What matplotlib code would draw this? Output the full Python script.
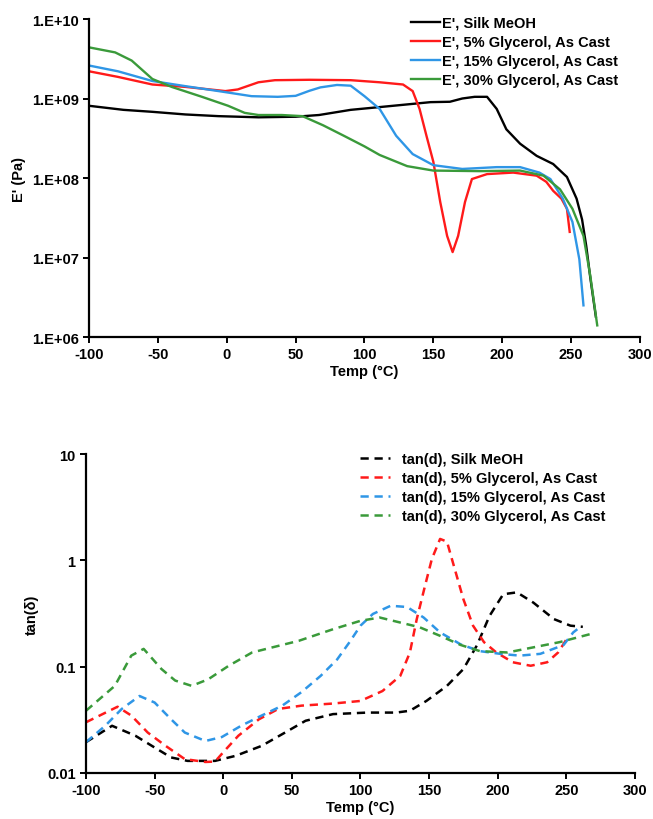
import numpy as np
import matplotlib
matplotlib.use("Agg")
import matplotlib.pyplot as plt
from matplotlib.ticker import FixedLocator, FuncFormatter, NullLocator

plt.rcParams['font.family'] = ['Liberation Sans', 'DejaVu Sans']
plt.rcParams['font.weight'] = 'bold'
plt.rcParams['axes.unicode_minus'] = False

# ---- storage modulus E' (Pa) ----
t_silk = [-100, -75, -54, -30, -6, 23, 50, 67, 90, 111, 148, 162, 171, 180, 189, 196, 203, 213, 225, 237, 247, 254, 258, 261, 264, 268]
e_silk = [8.1e8, 7.2e8, 6.8e8, 6.3e8, 6.0e8, 5.8e8, 5.9e8, 6.2e8, 7.2e8, 7.8e8, 9.0e8, 9.1e8, 1.0e9, 1.05e9, 1.05e9, 7.4e8, 4.1e8, 2.7e8, 1.9e8, 1.5e8, 1.03e8, 5.5e7, 3.0e7, 1.4e7, 5.5e6, 1.8e6]

t_g5 = [-100, -79, -54, -30, -1, 8, 23, 35, 60, 90, 111, 128, 135, 140, 145, 150, 155, 160, 164, 168, 173, 178, 189, 208, 225, 232, 237, 243, 247, 249]
e_g5 = [2.2e9, 1.87e9, 1.5e9, 1.4e9, 1.24e9, 1.3e9, 1.6e9, 1.7e9, 1.72e9, 1.7e9, 1.6e9, 1.5e9, 1.24e9, 7.4e8, 3.4e8, 1.6e8, 5.0e7, 1.87e7, 1.17e7, 1.87e7, 5.0e7, 9.7e7, 1.12e8, 1.17e8, 1.07e8, 8.95e7, 6.9e7, 5.5e7, 4.1e7, 2.1e7]

t_g15 = [-100, -79, -54, -30, -6, 18, 37, 50, 60, 68, 80, 90, 100, 111, 123, 135, 150, 171, 196, 213, 227, 235, 244, 251, 256, 259]
e_g15 = [2.6e9, 2.2e9, 1.66e9, 1.43e9, 1.24e9, 1.07e9, 1.05e9, 1.08e9, 1.25e9, 1.38e9, 1.48e9, 1.45e9, 1.07e9, 7.4e8, 3.4e8, 2.0e8, 1.45e8, 1.3e8, 1.37e8, 1.37e8, 1.17e8, 9.7e7, 5.5e7, 2.8e7, 9.5e6, 2.5e6]

t_g30 = [-100, -81, -69, -54, -40, -18, 1, 13, 23, 40, 55, 70, 85, 100, 111, 131, 150, 184, 213, 230, 242, 251, 259, 264, 269]
e_g30 = [4.4e9, 3.8e9, 3.0e9, 1.76e9, 1.4e9, 1.05e9, 8.1e8, 6.6e8, 6.2e8, 6.2e8, 6.0e8, 4.6e8, 3.4e8, 2.5e8, 1.95e8, 1.41e8, 1.24e8, 1.22e8, 1.24e8, 1.07e8, 7.2e7, 4.1e7, 1.87e7, 5.8e6, 1.4e6]

# ---- tan(delta) ----
td_t_silk = [-100, -81, -64, -52, -38, -26, -6, 9, 28, 45, 60, 80, 105, 126, 136, 148, 163, 175, 185, 194, 204, 214, 226, 241, 253, 262]
td_silk = [0.0195, 0.0278, 0.0224, 0.018, 0.014, 0.013, 0.013, 0.0145, 0.018, 0.024, 0.031, 0.0358, 0.037, 0.037, 0.0385, 0.0476, 0.066, 0.095, 0.16, 0.30, 0.48, 0.50, 0.40, 0.28, 0.243, 0.237]

td_t_g5 = [-100, -77, -67, -55, -42, -28, -13, -6, 1, 11, 26, 40, 57, 80, 100, 116, 129, 136, 141, 147, 152, 158, 163, 168, 175, 182, 190, 199, 211, 224, 236, 244, 250]
td_g5 = [0.030, 0.042, 0.0347, 0.024, 0.018, 0.0135, 0.0127, 0.0128, 0.0162, 0.0224, 0.032, 0.040, 0.043, 0.045, 0.0476, 0.059, 0.082, 0.136, 0.28, 0.575, 1.03, 1.59, 1.5, 0.89, 0.43, 0.243, 0.17, 0.136, 0.11, 0.102, 0.11, 0.136, 0.18]

td_t_g15 = [-100, -86, -74, -61, -50, -38, -28, -13, -1, 13, 28, 43, 57, 71, 83, 92, 100, 109, 122, 134, 146, 158, 173, 187, 202, 216, 231, 248, 255, 258]
td_g15 = [0.0195, 0.0278, 0.040, 0.053, 0.046, 0.032, 0.024, 0.020, 0.0218, 0.0278, 0.0347, 0.043, 0.0576, 0.082, 0.117, 0.17, 0.243, 0.313, 0.374, 0.364, 0.29, 0.21, 0.162, 0.14, 0.132, 0.127, 0.132, 0.16, 0.21, 0.225]

td_t_g30 = [-100, -79, -67, -58, -45, -35, -23, -11, 4, 21, 35, 55, 80, 100, 114, 129, 143, 158, 173, 187, 207, 226, 245, 269]
td_g30 = [0.0385, 0.066, 0.127, 0.147, 0.095, 0.074, 0.066, 0.076, 0.102, 0.136, 0.151, 0.175, 0.225, 0.27, 0.29, 0.26, 0.235, 0.195, 0.16, 0.14, 0.136, 0.152, 0.17, 0.205]

labels_e = ["E', Silk MeOH", "E', 5% Glycerol, As Cast", "E', 15% Glycerol, As Cast", "E', 30% Glycerol, As Cast"]
labels_td = ["tan(d), Silk MeOH", "tan(d), 5% Glycerol, As Cast", "tan(d), 15% Glycerol, As Cast", "tan(d), 30% Glycerol, As Cast"]
colors = ['#000000', '#ff1a1a', '#2f96e6', '#3a9a3a']
x_ticks = [-100, -50, 0, 50, 100, 150, 200, 250, 300]

fig = plt.figure(figsize=(6.53, 8.2), dpi=100)

def style_axes(ax):
    for s in ['top', 'right']:
        ax.spines[s].set_visible(False)
    for s in ['left', 'bottom']:
        ax.spines[s].set_linewidth(1.6)
    ax.tick_params(axis='both', direction='out', length=4, width=1.4, labelsize=10.5)
    ax.yaxis.set_minor_locator(NullLocator())
    ax.set_xlim(-100, 300)
    ax.xaxis.set_major_locator(FixedLocator(x_ticks))
    ax.set_xlabel('Temp (°C)', fontsize=10.5, fontweight='bold', labelpad=2)

# top panel
ax1 = fig.add_axes([0.1363, 0.5878, 0.8437, 0.3878])
for t, e, c, lab in zip([t_silk, t_g5, t_g15, t_g30], [e_silk, e_g5, e_g15, e_g30], colors, labels_e):
    ax1.plot(t, e, color=c, lw=1.7, label=lab, solid_joinstyle='round')
ax1.set_yscale('log')
ax1.set_ylim(1e6, 1e10)
ax1.yaxis.set_major_locator(FixedLocator([1e6, 1e7, 1e8, 1e9, 1e10]))
ax1.yaxis.set_major_formatter(FuncFormatter(lambda v, p: "1.E+%02d" % round(np.log10(v))))
style_axes(ax1)
ax1.set_ylabel("E' (Pa)", fontsize=10.5, fontweight='bold', labelpad=4)
ax1.legend(loc='upper left', bbox_to_anchor=(411 / 653, 1 - 17 / 820), bbox_transform=fig.transFigure,
           frameon=False, fontsize=10.5, handlelength=2.0, handletextpad=0.15, labelspacing=0.35,
           borderaxespad=0, borderpad=0)

# bottom panel
ax2 = fig.add_axes([0.1317, 0.0561, 0.8407, 0.389])
for t, v, c, lab in zip([td_t_silk, td_t_g5, td_t_g15, td_t_g30], [td_silk, td_g5, td_g15, td_g30], colors, labels_td):
    ax2.plot(t, v, color=c, lw=1.8, ls=(0, (3.3, 2.3)), label=lab)
ax2.set_yscale('log')
ax2.set_ylim(0.01, 10)
ax2.yaxis.set_major_locator(FixedLocator([0.01, 0.1, 1, 10]))
ax2.yaxis.set_major_formatter(FuncFormatter(lambda v, p: "%g" % v))
style_axes(ax2)
ax2.set_ylabel("tan(δ)", fontsize=10.5, fontweight='bold', labelpad=6)
ax2.legend(loc='upper left', bbox_to_anchor=(360 / 653, 1 - 453 / 820), bbox_transform=fig.transFigure,
           frameon=False, fontsize=10.5, handlelength=2.06, handletextpad=0.82, labelspacing=0.35,
           borderaxespad=0, borderpad=0)

fig.savefig('out.png', dpi=100)
